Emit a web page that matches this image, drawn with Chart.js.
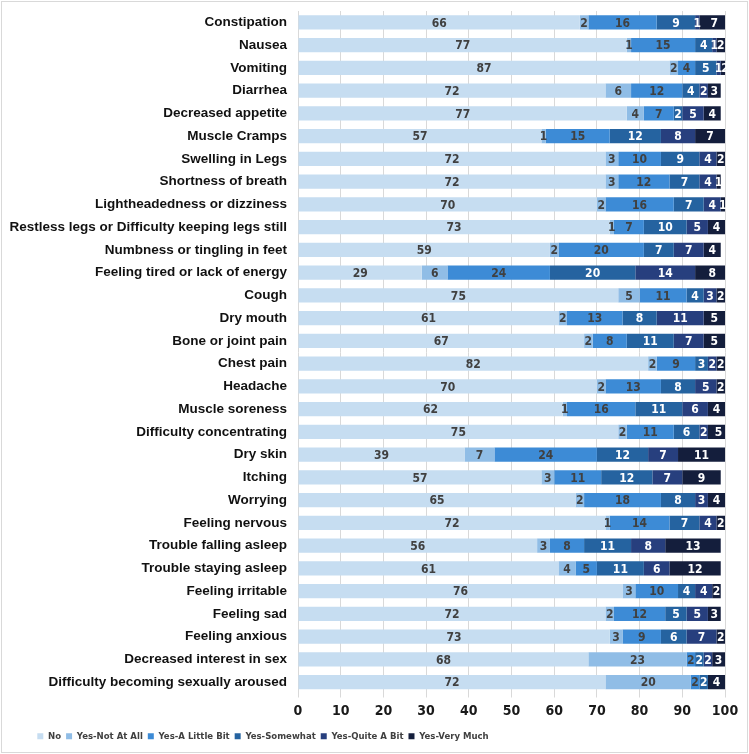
<!DOCTYPE html>
<html>
<head>
<meta charset="utf-8">
<script src="https://cdn.jsdelivr.net/npm/chart.js@4"></script>
<style>
  html, body { margin: 0; padding: 0; background: #fff; }
  #wrap { width: 749px; height: 754px; }
</style>
</head>
<body>
<div id="wrap"><canvas id="bar-chart" width="749" height="754"></canvas></div>
<script>
var symptoms = ["Constipation", "Nausea", "Vomiting", "Diarrhea", "Decreased appetite",
  "Muscle Cramps", "Swelling in Legs", "Shortness of breath", "Lightheadedness or dizziness",
  "Restless legs or Difficulty keeping legs still", "Numbness or tingling in feet",
  "Feeling tired or lack of energy", "Cough", "Dry mouth", "Bone or joint pain", "Chest pain",
  "Headache", "Muscle soreness", "Difficulty concentrating", "Dry skin", "Itching", "Worrying",
  "Feeling nervous", "Trouble falling asleep", "Trouble staying asleep", "Feeling irritable",
  "Feeling sad", "Feeling anxious", "Decreased interest in sex",
  "Difficulty becoming sexually aroused"];

var answers = ["No", "Yes-Not At All", "Yes-A Little Bit", "Yes-Somewhat", "Yes-Quite A Bit", "Yes-Very Much"];

var no =        [66, 77, 87, 72, 77, 57, 72, 72, 70, 73, 59, 29, 75, 61, 67, 82, 70, 62, 75, 39, 57, 65, 72, 56, 61, 76, 72, 73, 68, 72];
var notAtAll =  [2, 1, 2, 6, 4, 1, 3, 3, 2, 1, 2, 6, 5, 2, 2, 2, 2, 1, 2, 7, 3, 2, 1, 3, 4, 3, 2, 3, 23, 20];
var littleBit = [16, 15, 4, 12, 7, 15, 10, 12, 16, 7, 20, 24, 11, 13, 8, 9, 13, 16, 11, 24, 11, 18, 14, 8, 5, 10, 12, 9, 2, 2];
var somewhat =  [9, 4, 5, 4, 2, 12, 9, 7, 7, 10, 7, 20, 4, 8, 11, 3, 8, 11, 6, 12, 12, 8, 7, 11, 11, 4, 5, 6, 2, 2];
var quiteABit = [1, 1, 1, 2, 5, 8, 4, 4, 4, 5, 7, 14, 3, 11, 7, 2, 5, 6, 2, 7, 7, 3, 4, 8, 6, 4, 5, 7, 2, 0];
var veryMuch =  [7, 2, 2, 3, 4, 7, 2, 1, 1, 4, 4, 8, 2, 5, 5, 2, 2, 4, 5, 11, 9, 4, 2, 13, 12, 2, 3, 2, 3, 4];

var xTicks = [0, 10, 20, 30, 40, 50, 60, 70, 80, 90, 100];

var COLORS = ["#c6ddf1", "#90bde6", "#3d8bd6", "#2563a0", "#273f7e", "#141e3c"];
var LABEL_COLORS = ["#404040", "#404040", "#404040", "#ffffff", "#ffffff", "#ffffff"];
var series = [no, notAtAll, littleBit, somewhat, quiteABit, veryMuch];

// pick a narrow font (Calibri-like) if one is installed
function pickFont(list) {
  var c = document.createElement("canvas").getContext("2d");
  var probe = "Yes-Quite A Bit 0123456789";
  for (var i = 0; i < list.length; i++) {
    c.font = "bold 20px monospace";
    var a = c.measureText(probe).width;
    c.font = "bold 20px '" + list[i] + "', monospace";
    if (c.measureText(probe).width !== a) return "'" + list[i] + "'";
  }
  return "'Liberation Sans'";
}
var NARROW = pickFont(["Liberation Sans Narrow", "DejaVu Sans Condensed", "Roboto Condensed", "Open Sans Condensed"]);

var datasets = series.map(function(values, i) {
  return {
    label: answers[i],
    data: values,
    backgroundColor: COLORS[i],
    borderWidth: 0,
    barPercentage: 1,
    categoryPercentage: 0.62
  };
});

// frame + white background
var framePlugin = {
  id: "frame",
  beforeDraw: function(chart) {
    var ctx = chart.ctx;
    ctx.save();
    ctx.fillStyle = "#fff";
    ctx.fillRect(0, 0, chart.width, chart.height);
    ctx.strokeStyle = "#d9d9d9";
    ctx.lineWidth = 1;
    ctx.strokeRect(1.5, 1.5, chart.width - 3, chart.height - 3);
    ctx.restore();
  }
};

// value labels in the middle of each segment
var valueLabels = {
  id: "valueLabels",
  afterDatasetsDraw: function(chart) {
    var ctx = chart.ctx;
    ctx.save();
    ctx.font = "bold 12px " + NARROW + ", sans-serif";
    ctx.textAlign = "center";
    ctx.textBaseline = "middle";
    chart.data.datasets.forEach(function(ds, i) {
      var meta = chart.getDatasetMeta(i);
      meta.data.forEach(function(bar, j) {
        var v = ds.data[j];
        if (!v) return;
        ctx.fillStyle = LABEL_COLORS[i];
        ctx.fillText(v, (bar.x + bar.base) / 2, bar.y + 1);
      });
    });
    ctx.restore();
  }
};

// Excel puts the legend left of centre (centre at x = 263)
var legendShift = {
  id: "legendShift",
  afterLayout: function(chart) {
    var lg = chart.legend;
    var shift = (lg.left + lg.right) / 2 - 263;
    lg.left -= shift;
    lg.right -= shift;
  }
};

new Chart(document.getElementById("bar-chart"), {
  type: "bar",
  data: { labels: symptoms, datasets: datasets },
  plugins: [framePlugin, valueLabels, legendShift],
  options: {
    indexAxis: "y",
    responsive: false,
    animation: false,
    layout: { padding: { left: 0, right: 24, top: 11, bottom: 3 } },
    scales: {
      x: {
        stacked: true,
        min: 0,
        max: 100,
        afterBuildTicks: function(scale) {
          scale.ticks = xTicks.map(function(v) { return { value: v }; });
        },
        afterFit: function(scale) { scale.height = 33; },
        border: { display: false },
        grid: { color: "#d9d9d9", tickLength: 4, drawTicks: true },
        ticks: {
          color: "#1a1a1a",
          padding: 5,
          font: { family: NARROW + ", sans-serif", size: 14, weight: "bold" }
        }
      },
      y: {
        stacked: true,
        afterFit: function(scale) {
          scale.width = 298;
          scale.paddingTop = 0;
          scale.paddingBottom = 0;
        },
        border: { display: false },
        grid: { display: false, drawTicks: false },
        ticks: {
          color: "#111",
          padding: 11,
          autoSkip: false,
          font: { family: "'Liberation Sans', Arial, sans-serif", size: 13.5, weight: "bold" }
        }
      }
    },
    plugins: {
      legend: {
        position: "bottom",
        labels: {
          boxWidth: 6,
          boxHeight: 6,
          padding: 5,
          color: "#404040",
          font: { family: NARROW + ", sans-serif", size: 9.5, weight: "bold" }
        }
      },
      tooltip: { enabled: false }
    }
  }
});
</script>
</body>
</html>
